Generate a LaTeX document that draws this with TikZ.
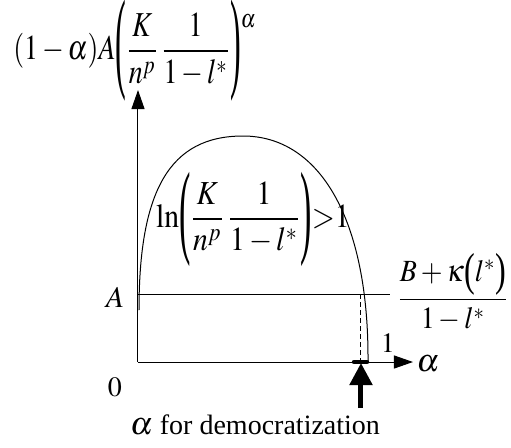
\documentclass[tikz,border=0pt]{standalone}
\usepackage{mathptmx}
\usepackage{fontspec}
\setmainfont{Liberation Serif}
\usetikzlibrary{arrows.meta}
\newcommand{\tallL}[1]{\mathopen{\vcenter{\hbox{\scalebox{1.15}[#1]{(}}}}}
\newcommand{\tallR}[1]{\mathclose{\vcenter{\hbox{\scalebox{1.15}[#1]{)}}}}}
\begin{document}
\begin{tikzpicture}[x=0.5pt,y=-0.5pt,
  thinline/.style={line width=0.5pt},
  axisarrow/.style={thinline,-{Triangle[length=9.5pt,width=6.5pt]}},
  lbl/.style={inner sep=0pt,font=\fontsize{14}{16}\selectfont}]
\useasboundingbox (0,0) rectangle (511,447);
\coordinate (o) at (138,362);
\coordinate (ytip) at (138,90);
\coordinate (xtip) at (413,362);
\coordinate (aleft) at (138,294);
\coordinate (aright) at (390,294);
\coordinate (dtop) at (361,294);
\coordinate (dbot) at (361,362);
\coordinate (mleft) at (354,362);
\coordinate (mright) at (367,362);
\coordinate (arrtail) at (361,408);
\coordinate (arrtip) at (361,363);
\coordinate (cstart) at (139,310);
\coordinate (ctop) at (243,136);
\coordinate (cend) at (368,362);
% axes
\draw[axisarrow] (o) -- (ytip);
\draw[axisarrow] (o) -- (xtip);
% A level line
\draw[thinline] (aleft) -- (aright);
% curve
\draw[thinline] (cstart) .. controls (139,190) and (170,136) .. (ctop)
  .. controls (320,136) and (369,220) .. (cend);
% dashed drop
\draw[thinline,dashed,dash pattern=on 2.5pt off 1.5pt] (dtop) -- (dbot);
% thick marker
\draw[line width=2.2pt,line cap=round] (mleft) -- (mright);
% thick arrow
\draw[line width=2.5pt,-{Triangle[length=11pt,width=11pt]}] (arrtail) -- (arrtip);
% labels
\node[lbl] (toplabel) at (135,51) {\scalebox{1}[1.25]{$\displaystyle (1-\alpha)A\tallL{3.2}{\frac{K}{n^{p}}}\,{\frac{1}{1-l^{*}}}\tallR{3.2}^{\raisebox{-7pt}{$\scriptstyle\alpha$}}$}};
\node[lbl] (lnlabel) at (253,219) {\scalebox{1.06}[1.2]{$\displaystyle {\mathrm{ln}}\tallL{3.1}{\frac{K}{n^{p}}}\,{\frac{1}{1-l^{*}}}\tallR{3.1}{>}1$}};
\node[lbl,font=\fontsize{15}{17}\selectfont] (alabel) at (115,297) {$A$};
\node[lbl] (zero) at (115,387) {$0$};
\node[lbl] (one) at (388,343) {$1$};
\node[lbl,font=\fontsize{16}{18}\selectfont] (alphax) at (428,364) {$\alpha$};
\node[lbl] (blabel) at (453,292) {\scalebox{1}[1.1]{$\displaystyle\frac{B+\kappa\tallL{1.5}l^{*}\tallR{1.5}}{1-l^{*}}$}};
\node[lbl] (bottom) at (255,425) {{\fontsize{16}{18}\selectfont$\alpha$} for democratization};
\end{tikzpicture}
\end{document}
